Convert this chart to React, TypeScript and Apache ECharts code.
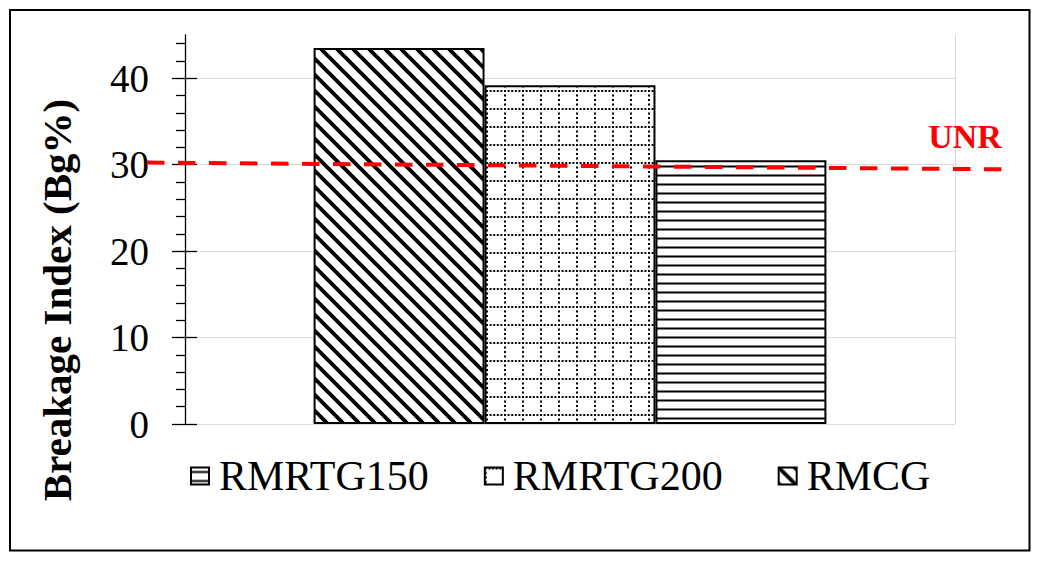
import React, { useEffect, useRef } from 'react';
import * as echarts from 'echarts';

const categories = ['Sample'];
const barNames = ['RMCG', 'RMRTG200', 'RMRTG150'];
const legendOrder = ['RMRTG150', 'RMRTG200', 'RMCG'];
const rmcgValues = [43.5];
const rmrtg200Values = [39.2];
const rmrtg150Values = [30.5];
const yMajorTicks = [0, 10, 20, 30, 40];
const yMinorTicks = [2, 4, 6, 8, 12, 14, 16, 18, 22, 24, 26, 28, 32, 34, 36, 38, 42, 44];
const unrValues = [30.25, 29.45];
const unrLabel = 'UNR';
const yTitle = 'Breakage Index (Bg%)';

const SERIF = 'Liberation Serif, Times New Roman, serif';

function makePattern(kind: string) {
  const c = document.createElement('canvas');
  const ctx = c.getContext('2d')!;
  let w = 16;
  let h = 16;
  if (kind === 'diag') {
    w = 16; h = 16;
    c.width = w; c.height = h;
    ctx.fillStyle = '#fff';
    ctx.fillRect(0, 0, w, h);
    ctx.strokeStyle = '#000';
    ctx.lineWidth = 3.8;
    for (const o of [-w, 0, w]) {
      ctx.beginPath();
      ctx.moveTo(o - 3, -3);
      ctx.lineTo(o + w + 3, h + 3);
      ctx.stroke();
    }
  } else if (kind === 'horiz') {
    w = 9; h = 9;
    c.width = w; c.height = h;
    ctx.fillStyle = '#fff';
    ctx.fillRect(0, 0, w, h);
    ctx.fillStyle = '#000';
    ctx.fillRect(0, 3.5, w, 2);
  } else {
    w = 18; h = 18;
    c.width = w; c.height = h;
    ctx.fillStyle = '#fff';
    ctx.fillRect(0, 0, w, h);
    ctx.fillStyle = '#000';
    for (let x = 0; x < w - 0.5; x += 3.6) ctx.fillRect(x, 0, 2, 2);
    for (let y = 0; y < h - 0.5; y += 4.5) ctx.fillRect(0, y, 2, 2);
  }
  return { image: c.toDataURL(), repeat: 'repeat', imageWidth: w, imageHeight: h };
}

export default function App() {
  const ref = useRef<HTMLDivElement>(null);
  useEffect(() => {
    if (!ref.current) return;
    const chart = echarts.init(ref.current, null, { renderer: 'svg' });
    const patterns: Record<string, any> = {
      RMCG: makePattern('diag'),
      RMRTG200: makePattern('dots'),
      RMRTG150: makePattern('horiz'),
    };
    const values: Record<string, number[]> = {
      RMCG: rmcgValues,
      RMRTG200: rmrtg200Values,
      RMRTG150: rmrtg150Values,
    };
    const gray = '#d9d9d9';
    chart.setOption({
      animation: false,
      backgroundColor: '#fff',
      grid: { left: 185, right: 84, top: 35, bottom: 137, containLabel: false },
      legend: {
        data: legendOrder,
        left: 190,
        top: 455,
        padding: 0,
        itemWidth: 18,
        itemHeight: 17,
        itemGap: 55,
        icon: 'rect',
        textStyle: { fontFamily: SERIF, fontSize: 42, color: '#000', padding: [0, 0, 0, 5] },
      },
      xAxis: {
        type: 'category',
        data: categories,
        axisLine: { show: false },
        axisTick: { show: false },
        axisLabel: { show: false },
        splitLine: { show: true, lineStyle: { color: gray, width: 1 } },
      },
      yAxis: [
        {
          type: 'value',
          min: 0,
          max: 45,
          position: 'left',
          axisLine: { show: true, lineStyle: { color: '#000', width: 1.3 } },
          axisTick: { show: true, customValues: yMajorTicks, length: 13, lineStyle: { color: '#000', width: 1.3 } },
          axisLabel: { customValues: yMajorTicks, margin: 36, fontFamily: SERIF, fontSize: 39, color: '#000' },
          splitLine: { show: true, lineStyle: { color: gray, width: 1 } },
        },
        {
          type: 'value',
          min: 0,
          max: 45,
          position: 'left',
          axisLine: { show: false },
          axisTick: { show: true, customValues: yMinorTicks, length: 9, lineStyle: { color: '#000', width: 1.3 } },
          axisLabel: { show: false },
          splitLine: { show: false },
        },
        {
          type: 'value',
          min: 0,
          max: 45,
          position: 'left',
          axisLine: { show: false },
          axisTick: { show: true, inside: true, customValues: yMajorTicks, length: 12, lineStyle: { color: '#000', width: 1.3 } },
          axisLabel: { show: false },
          splitLine: { show: false },
        },
      ],
      series: barNames.map((n) => ({
        type: 'bar',
        name: n,
        data: values[n],
        barGap: '0%',
        barCategoryGap: '33.4%',
        itemStyle: { color: patterns[n], borderColor: '#000', borderWidth: 2 },
      })),
    });

    const y1 = chart.convertToPixel({ yAxisIndex: 0 }, unrValues[0]) as number;
    const y2 = chart.convertToPixel({ yAxisIndex: 0 }, unrValues[1]) as number;
    chart.setOption({
      graphic: [
        {
          type: 'rect',
          shape: { x: 10, y: 10, width: 1019.5, height: 540.5 },
          style: { fill: 'none', stroke: '#000', lineWidth: 2 },
          silent: true,
        },
        {
          type: 'text',
          x: 77,
          y: 300,
          rotation: Math.PI / 2,
          style: {
            text: yTitle,
            align: 'center',
            verticalAlign: 'bottom',
            font: 'bold 41px ' + SERIF,
            fill: '#000',
          },
        },
        {
          type: 'line',
          shape: { x1: 147, y1, x2: 1013, y2 },
          style: { stroke: '#ff0000', lineWidth: 4, lineDash: [17.5, 13.5] },
          z: 100,
          silent: true,
        },
        {
          type: 'text',
          x: 965,
          y: 136,
          style: {
            text: unrLabel,
            align: 'center',
            verticalAlign: 'middle',
            font: 'bold 34px ' + SERIF,
            fill: '#ff0000',
          },
          z: 100,
        },
      ],
    });
    return () => chart.dispose();
  }, []);
  return (
    <div
      ref={ref}
      style={{ position: 'absolute', left: 0, top: 0, width: 1039, height: 561 }}
    />
  );
}
